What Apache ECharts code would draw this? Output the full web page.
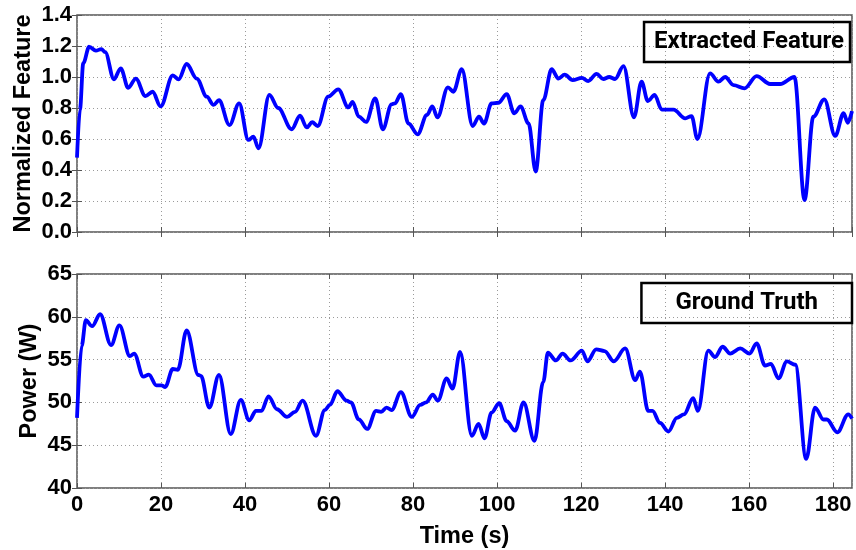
<!DOCTYPE html>
<html>
<head>
<meta charset="utf-8">
<script src="https://cdn.jsdelivr.net/npm/echarts@6/dist/echarts.min.js"></script>
<style>
  html, body { margin: 0; padding: 0; background: #fff; }
  #chart { width: 856px; height: 550px; }
</style>
</head>
<body>
<div id="chart"></div>
<script>
// Extracted feature (normalized), sampled at turning points of the trace
const featureTime = [
  0, 0.7, 1.5, 2.9, 4.5, 5.8, 6.7, 8.8, 10.4, 12.2,
  14.0, 16.3, 18.0, 19.9, 22.8, 24.2, 26.1, 28.5, 30.9, 32.5,
  33.8, 36.3, 38.6, 40.8, 42.0, 43.2, 45.8, 47.9, 51.1, 53.1,
  54.7, 56.0, 57.3, 59.8, 62.2, 64.6, 65.6, 67.1, 68.8, 71.0,
  72.8, 74.9, 75.7, 77.1, 78.9, 81.1, 83.3, 84.6, 85.8, 88.3,
  89.6, 91.6, 94.2, 95.7, 96.9, 98.7, 100.3, 102.3, 104.1, 105.6,
  107.5, 109.2, 111.0, 113.0, 114.6, 116.1, 118.0, 120.2, 121.7, 123.7,
  125.3, 126.7, 128.1, 130.1, 132.6, 134.4, 135.9, 137.5, 139.2, 142.0,
  144.8, 146.3, 147.7, 150.7, 152.7, 154.3, 156.3, 158.9, 161.8, 165.0,
  167.4, 170.8, 173.2, 175.3, 177.9, 180.5, 182.5, 183.5, 184.5
];
const featureValues = [
  0.48, 0.79, 1.09, 1.195, 1.17, 1.18, 1.16, 0.985, 1.056, 0.93,
  0.99, 0.877, 0.905, 0.81, 1.01, 0.985, 1.084, 0.99, 0.873, 0.82,
  0.85, 0.69, 0.83, 0.594, 0.615, 0.54, 0.884, 0.80, 0.663, 0.75,
  0.675, 0.708, 0.684, 0.873, 0.92, 0.804, 0.84, 0.744, 0.71, 0.862,
  0.663, 0.824, 0.83, 0.89, 0.70, 0.63, 0.755, 0.81, 0.74, 0.933,
  0.905, 1.05, 0.684, 0.744, 0.70, 0.83, 0.834, 0.89, 0.766, 0.81,
  0.70, 0.39, 0.85, 1.05, 0.99, 1.015, 0.98, 0.995, 0.974, 1.02,
  0.987, 1.0, 0.987, 1.07, 0.74, 0.97, 0.845, 0.884, 0.79, 0.79,
  0.733, 0.748, 0.60, 1.024, 0.97, 1.0, 0.948, 0.927, 1.006, 0.955,
  0.955, 1.0, 0.206, 0.744, 0.856, 0.62, 0.766, 0.705, 0.78
];

// Measured power (W)
const powerTime = [
  0, 1.1, 2.1, 3.6, 5.5, 8.1, 10.1, 12.6, 13.6, 15.8,
  17.1, 18.9, 20.1, 21.0, 22.8, 24.0, 26.1, 28.9, 29.5, 31.5,
  33.8, 36.6, 39.0, 41.0, 42.6, 43.9, 45.6, 47.6, 50.0, 51.9,
  53.7, 56.9, 59.0, 60.2, 62.0, 64.2, 65.2, 67.1, 69.1, 71.2,
  72.4, 73.7, 74.9, 77.1, 79.7, 81.7, 83.1, 84.7, 85.9, 88.0,
  89.4, 91.2, 94.0, 95.6, 97.0, 98.7, 100.5, 102.3, 104.3, 106.3,
  108.9, 111.0, 112.1, 114.0, 115.6, 117.5, 120.2, 121.5, 123.6, 125.6,
  127.8, 130.5, 132.9, 134.0, 136.0, 137.0, 138.8, 140.8, 142.8, 144.5,
  146.7, 147.8, 150.3, 151.9, 153.7, 155.5, 157.9, 160.1, 161.8, 163.8,
  165.2, 167.0, 169.0, 171.0, 173.6, 175.7, 177.7, 178.5, 181.0, 183.6, 184.5
];
const powerValues = [
  48.2, 56.6, 59.6, 58.9, 60.3, 56.7, 59.0, 55.4, 55.7, 53.0,
  53.25, 52.0, 52.0, 51.8, 53.9, 53.8, 58.4, 53.2, 53.1, 49.4,
  53.2, 46.3, 50.3, 47.9, 49.0, 49.0, 50.7, 49.2, 48.3, 48.9,
  50.2, 46.1, 49.1, 49.7, 51.3, 50.2, 50.0, 48.0, 46.9, 49.0,
  48.9, 49.4, 49.1, 51.2, 48.3, 49.7, 50.0, 50.9, 50.2, 52.8,
  51.6, 55.9, 46.1, 47.5, 45.8, 48.8, 49.9, 47.8, 46.7, 50.0,
  45.5, 52.4, 55.8, 54.9, 55.7, 54.9, 56.05, 54.8, 56.2, 56.0,
  54.8, 56.3, 52.6, 53.6, 49.0, 49.0, 47.6, 46.6, 48.2, 48.6,
  50.5, 49.0, 56.05, 55.3, 56.5, 55.7, 56.3, 55.7, 56.9, 54.3,
  54.5, 52.8, 54.8, 54.4, 43.4, 49.4, 48.0, 48.0, 46.5, 48.6, 48.1
];

const timeRange = [0, 184.5];
const timeStep = 20;
const featureRange = [0, 1.4];
const featureStep = 0.2;
const powerRange = [40, 65];
const powerStep = 5;

const pairs = (xs, ys) => xs.map((x, i) => [x, ys[i]]);

const FONT = '"Liberation Sans", Arial, sans-serif';
const LEGEND_FONT = 'Roboto, sans-serif';
const INK = '#000';
const FRAME = '#555';
const BLUE = '#0000ff';

const splitLine = { show: true, lineStyle: { color: '#9a9a9a', type: [1, 3], width: 1 } };
const axisTick = { show: true, inside: true, length: 5, lineStyle: { color: FRAME, width: 1 } };
const tickLabel = { fontFamily: FONT, fontWeight: 'bold', fontSize: 22, color: INK };
const titleText = { fontFamily: FONT, fontWeight: 'bold', fontSize: 23.5, color: INK };

// mirrored tick-only axes on the top and right of each panel
const mirrorX = (g) => ({
  type: 'value', gridIndex: g, position: 'top',
  min: timeRange[0], max: timeRange[1], interval: timeStep,
  axisLine: { show: false }, axisTick, splitLine: { show: false }, axisLabel: { show: false }
});
const mirrorY = (g, range, step) => ({
  type: 'value', gridIndex: g, position: 'right',
  min: range[0], max: range[1], interval: step,
  axisLine: { show: false }, axisTick, splitLine: { show: false }, axisLabel: { show: false }
});

const legendBox = (name, top, right, padding) => ({
  data: [name], top, right,
  icon: 'none', itemWidth: 0, itemHeight: 0, itemGap: 0,
  padding,
  borderColor: INK, borderWidth: 2.5, borderRadius: 0,
  backgroundColor: 'transparent',
  selectedMode: false,
  textStyle: { fontFamily: LEGEND_FONT, fontWeight: 'bold', fontSize: 24, color: INK }
});

const chart = echarts.init(document.getElementById('chart'), null, { renderer: 'canvas' });

chart.setOption({
  animation: false,
  backgroundColor: '#fff',
  grid: [
    { left: 77, right: 4, top: 15, height: 217, show: true, borderColor: FRAME, borderWidth: 1.5 },
    { left: 77, right: 4, top: 274, height: 217, show: true, borderColor: FRAME, borderWidth: 1.5 }
  ],
  legend: [
    legendBox('Extracted Feature', 22, 6, [8, 6, 8, 5]),
    legendBox('Ground Truth', 283, 4, [8, 34, 8, 29])
  ],
  xAxis: [
    {
      type: 'value', gridIndex: 0,
      min: timeRange[0], max: timeRange[1], interval: timeStep,
      axisLine: { show: false }, axisTick, splitLine,
      axisLabel: { show: false }
    },
    {
      type: 'value', gridIndex: 1,
      min: timeRange[0], max: timeRange[1], interval: timeStep,
      name: 'Time (s)', nameLocation: 'middle', nameGap: 37, nameMoveOverlap: false,
      nameTextStyle: titleText,
      axisLine: { show: false }, axisTick, splitLine,
      axisLabel: Object.assign({ show: true, showMaxLabel: false, margin: 6 }, tickLabel)
    },
    mirrorX(0),
    mirrorX(1)
  ],
  yAxis: [
    {
      type: 'value', gridIndex: 0,
      min: featureRange[0], max: featureRange[1], interval: featureStep,
      name: 'Normalized Feature', nameLocation: 'middle', nameGap: 41, nameMoveOverlap: false,
      nameTextStyle: titleText,
      axisLine: { show: false }, axisTick, splitLine,
      axisLabel: Object.assign({ margin: 5, formatter: v => v.toFixed(1) }, tickLabel)
    },
    {
      type: 'value', gridIndex: 1,
      min: powerRange[0], max: powerRange[1], interval: powerStep,
      name: 'Power (W)', nameLocation: 'middle', nameGap: 35, nameMoveOverlap: false,
      nameTextStyle: titleText,
      axisLine: { show: false }, axisTick, splitLine,
      axisLabel: Object.assign({ margin: 5 }, tickLabel)
    },
    mirrorY(0, featureRange, featureStep),
    mirrorY(1, powerRange, powerStep)
  ],
  series: [
    {
      name: 'Extracted Feature', type: 'line', xAxisIndex: 0, yAxisIndex: 0,
      data: pairs(featureTime, featureValues),
      smooth: 0.35, smoothMonotone: 'x', showSymbol: false,
      lineStyle: { color: BLUE, width: 3.8 }, itemStyle: { color: BLUE }
    },
    {
      name: 'Ground Truth', type: 'line', xAxisIndex: 1, yAxisIndex: 1,
      data: pairs(powerTime, powerValues),
      smooth: 0.35, smoothMonotone: 'x', showSymbol: false,
      lineStyle: { color: BLUE, width: 3.8 }, itemStyle: { color: BLUE }
    }
  ]
});
</script>
</body>
</html>
